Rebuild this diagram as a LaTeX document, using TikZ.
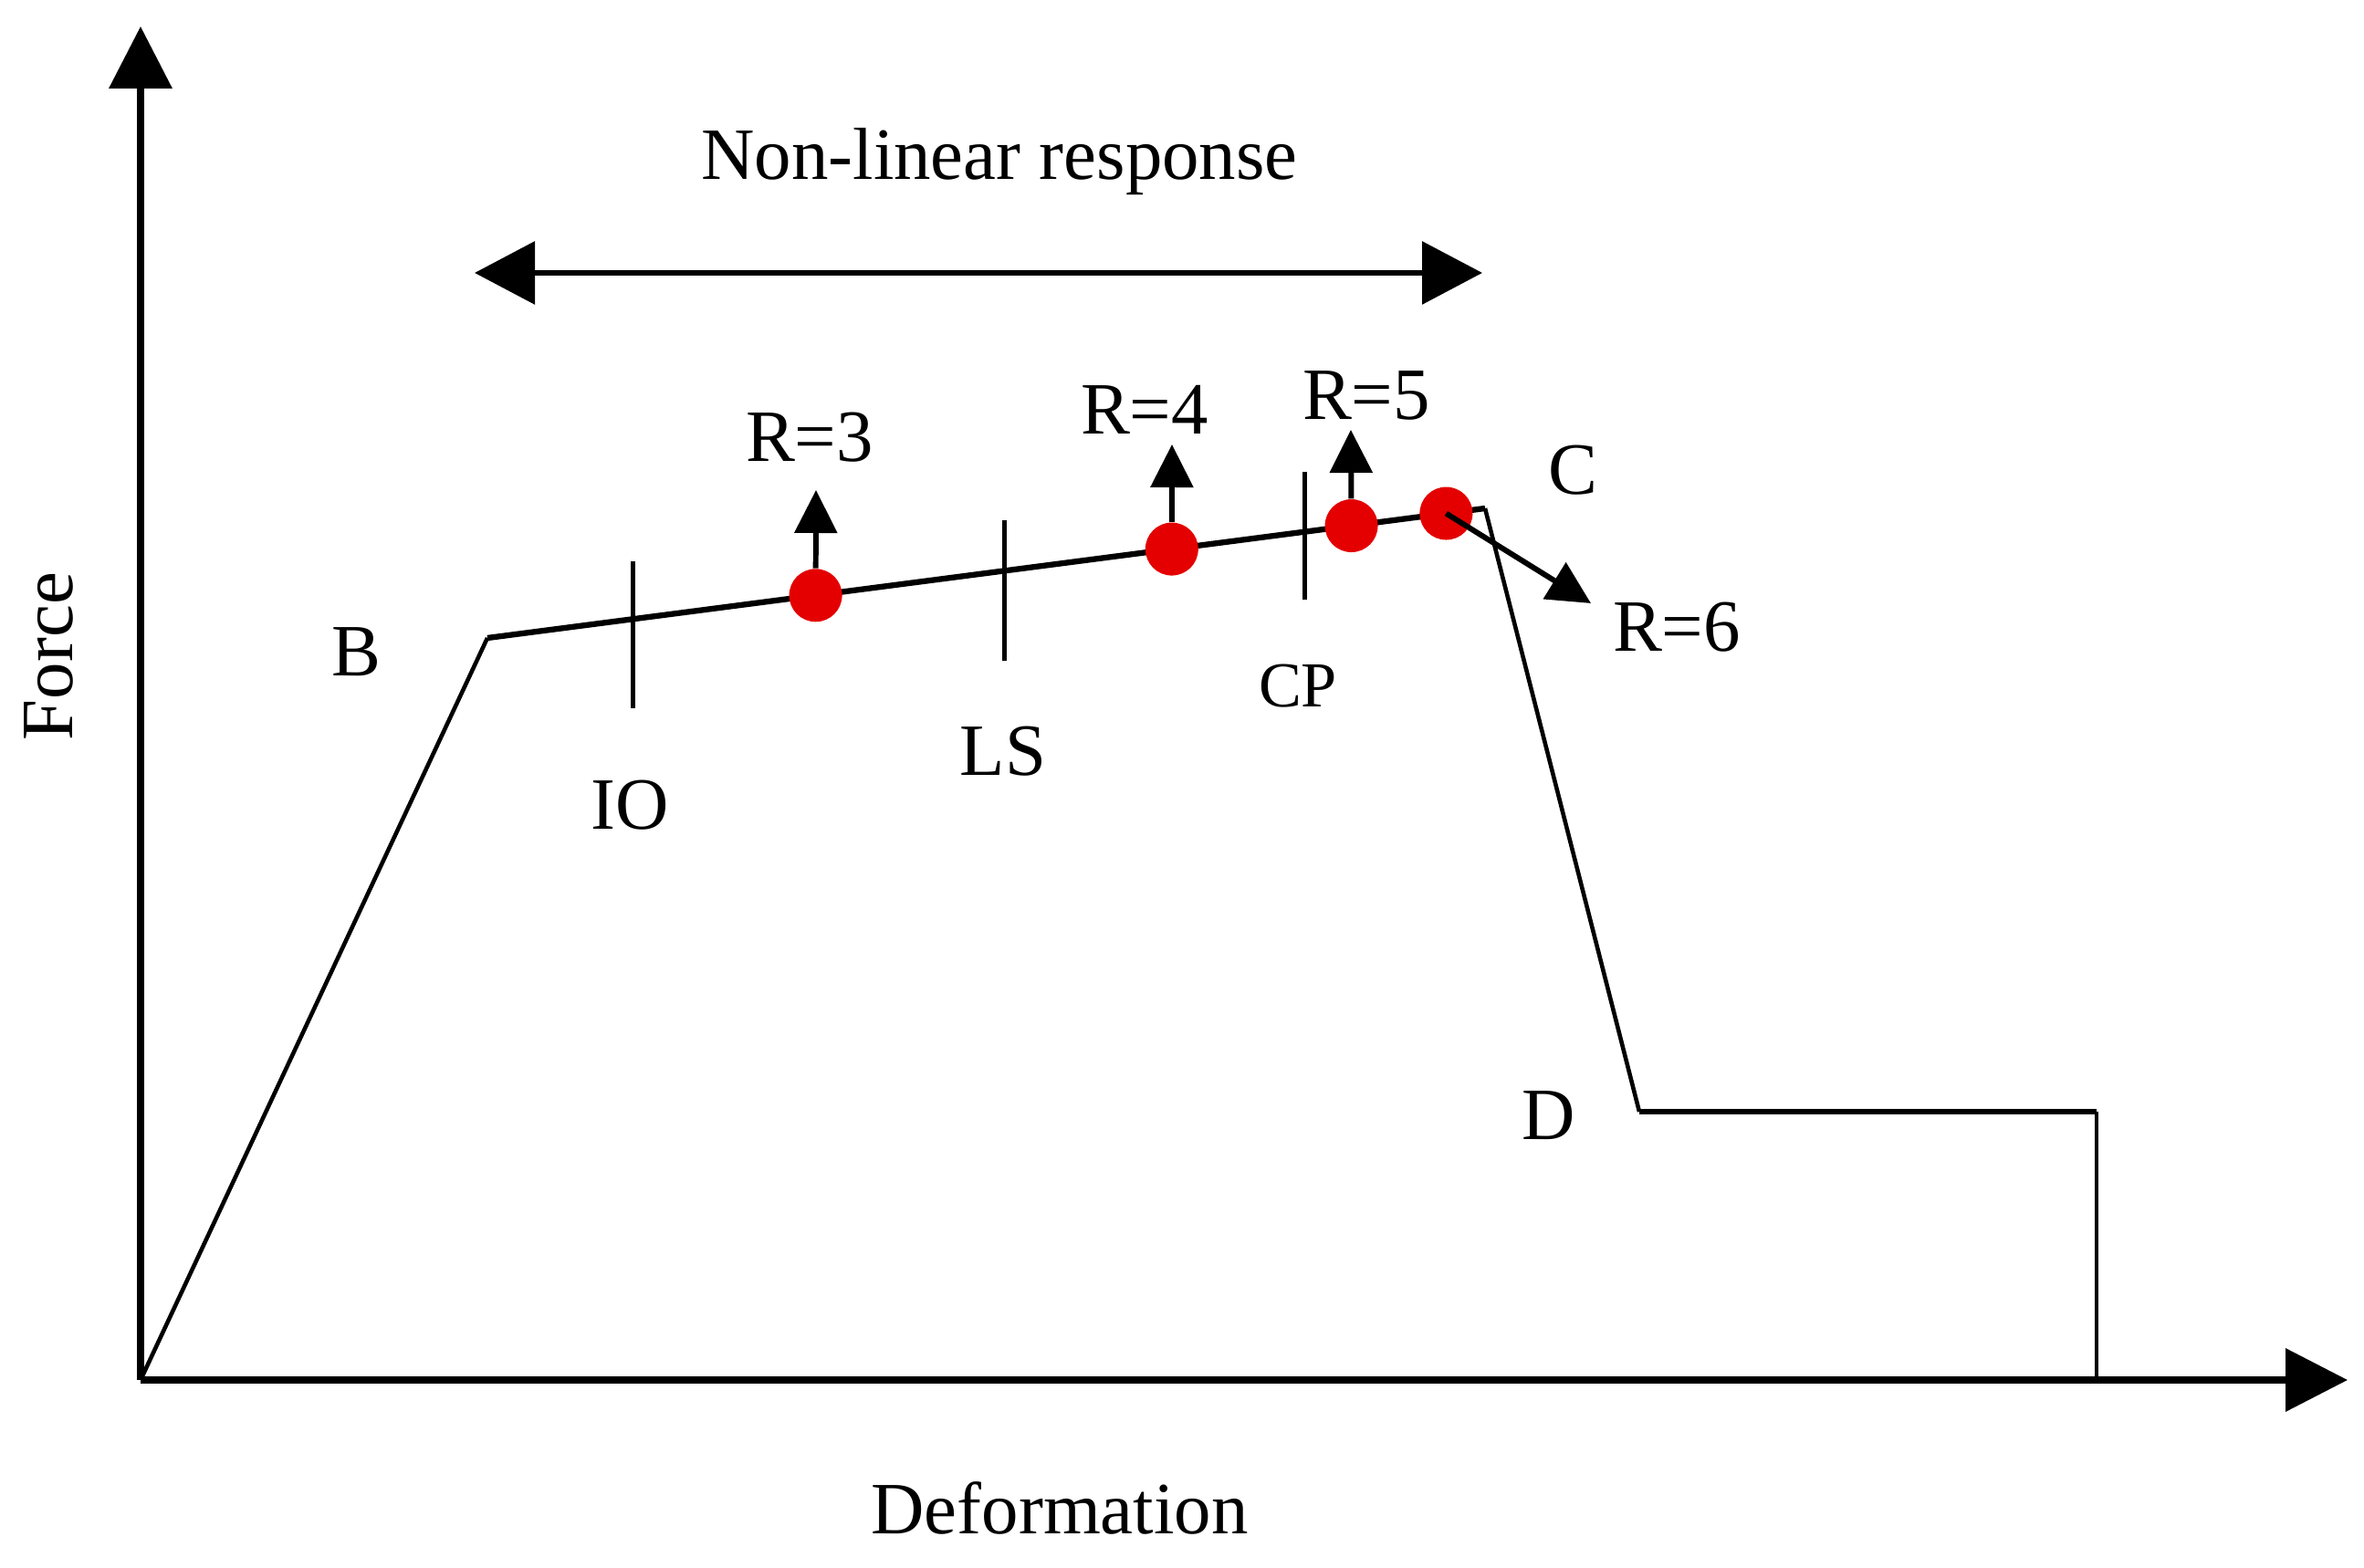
\documentclass[tikz,border=0pt]{standalone}
\usepackage{fontspec}
\setmainfont{Liberation Serif}
\usepackage{xcolor}
\usetikzlibrary{arrows.meta}
\definecolor{dotred}{RGB}{228,0,0}

\begin{document}
\begin{tikzpicture}[
	axisline/.style={line width=2pt,-{Triangle[width=0.68cm,length=0.68cm]}},
	span/.style={line width=1.8pt,{Triangle[width=0.68cm,length=0.66cm]}-{Triangle[width=0.68cm,length=0.66cm]}},
	curve/.style={line width=1.8pt},
	slimline/.style={line width=1.3pt},
	levelmark/.style={line width=1.5pt},
	hit/.style={circle,fill=dotred,inner sep=0pt,minimum size=0.58cm},
	rise/.style={line width=1.7pt,-{Triangle[width=0.46cm,length=0.47cm]}},
	lab/.style={font=\fontsize{23}{28}\selectfont},
	smalllab/.style={font=\fontsize{20}{24}\selectfont}
	]
	\useasboundingbox (0,0) rectangle (25.90,17.17);

	% axes
	\coordinate (O) at (1.54,2.05);
	\coordinate (Ytop) at (1.54,16.88);
	\coordinate (Xend) at (25.72,2.05);
	\draw[axisline] (O) -- (Ytop);
	\draw[axisline] (O) -- (Xend);

	% force-deformation curve
	\coordinate (B) at (5.34,10.18);
	\coordinate (C) at (16.27,11.60);
	\coordinate (D) at (17.96,4.99);
	\coordinate (E) at (22.97,4.99);
	\coordinate (F) at (22.97,2.05);
	\draw[slimline] (O) -- (B);
	\draw[curve] (B) -- (C);
	\draw[slimline] (C) -- (D);
	\draw[curve] (D) -- (E);
	\draw[slimline] (E) -- (F);

	\path (B) -- (C)
		coordinate[pos=0.146] (io)
		coordinate[pos=0.329] (p3)
		coordinate[pos=0.518] (ls)
		coordinate[pos=0.686] (p4)
		coordinate[pos=0.819] (cp)
		coordinate[pos=0.866] (p5)
		coordinate[pos=0.961] (p6);

	% performance levels
	\draw[levelmark] (io) ++(0,0.63) -- ++(0,-1.61);
	\draw[levelmark] (ls) ++(0,0.55) -- ++(0,-1.54);
	\draw[levelmark] (cp) ++(0,0.66) -- ++(0,-1.40);

	% hinge states
	\node[hit] (r3) at (p3) {};
	\node[hit] (r4) at (p4) {};
	\node[hit] (r5) at (p5) {};
	\node[hit] (r6) at (p6) {};
	\coordinate (t3) at (8.94,11.80);
	\coordinate (t4) at (12.84,12.30);
	\coordinate (t5) at (14.80,12.46);
	\coordinate (t6) at (17.43,10.56);
	\draw[rise] (r3) -- (t3);
	\draw[rise] (r4) -- (t4);
	\draw[rise] (r5) -- (t5);
	\draw[rise] (r6.center) -- (t6);

	% non-linear range
	\coordinate (nl1) at (5.20,14.18);
	\coordinate (nl2) at (16.24,14.18);
	\draw[span] (nl1) -- (nl2);

	% labels
	\node[lab] (nltext) at (10.95,15.40) {Non-linear response};
	\node[lab] (l3) at (8.87,12.38) {R=3};
	\node[lab] (l4) at (12.54,12.68) {R=4};
	\node[lab] (l5) at (14.97,12.84) {R=5};
	\node[lab] (l6) at (18.37,10.30) {R=6};
	\node[lab] (lC) at (17.23,12.02) {C};
	\node[lab] (lB) at (3.90,10.03) {B};
	\node[lab] (lD) at (16.97,4.95) {D};
	\node[lab] (lIO) at (6.90,8.35) {IO};
	\node[lab] (lLS) at (10.99,8.94) {LS};
	\node[smalllab] (lCP) at (14.22,9.65) {CP};
	\node[lab,rotate=90] (force) at (0.53,9.98) {Force};
	\node[lab] (deform) at (11.61,0.65) {Deformation};
\end{tikzpicture}
\end{document}
